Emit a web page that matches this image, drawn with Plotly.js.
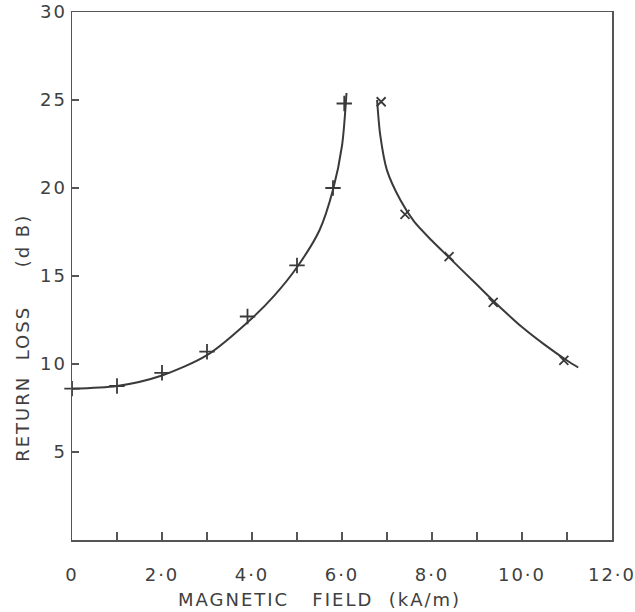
<!DOCTYPE html>
<html><head><meta charset="utf-8">
<script src="https://cdn.plot.ly/plotly-3.0.1.min.js"></script>
<style>
body{margin:0;background:#fff}
#chart{width:635px;height:612px}
#chart .xtick text, #chart .ytick text{letter-spacing:2px}
#chart .annotation-text{letter-spacing:2px}
</style>
</head><body><div id="chart"></div>
<script>
// measured points, below resonance (+)
const belowX = [0, 1.0, 2.0, 3.0, 3.9, 5.0, 5.8, 6.05];
const belowY = [8.6, 8.75, 9.5, 10.7, 12.7, 15.6, 20.0, 24.8];
// measured points, above resonance (x)
const aboveX = [6.87, 7.4, 8.38, 9.36, 10.93];
const aboveY = [24.9, 18.5, 16.1, 13.5, 10.2];
// hand-drawn curves
const curveLeftX = [0, 1, 2, 3, 4, 4.5, 5, 5.5, 5.8, 6.0, 6.1];
const curveLeftY = [8.6, 8.75, 9.35, 10.5, 12.6, 13.9, 15.5, 17.6, 19.9, 22.4, 25.4];
const curveRightX = [6.78, 6.85, 7.0, 7.3, 7.6, 8.0, 8.4, 9.0, 9.4, 10.0, 10.5, 11.0, 11.25];
const curveRightY = [25.0, 23.0, 21.0, 19.3, 18.1, 17.0, 16.0, 14.5, 13.5, 12.1, 11.1, 10.2, 9.8];
// ticks
const xTickVals = [0,1,2,3,4,5,6,7,8,9,10,11,12];
const xTickText = ['0','','2·0','','4·0','','6·0','','8·0','','10·0','','12·0'];
const yTickVals = [0,5,10,15,20,25,30];
const yTickText = ['','5','10','15','20','25','30'];
// titles
const nb = '\u00a0';
const xTitle = 'MAGNETIC' + nb+nb+nb + 'FIELD' + nb+nb + '(kA/m)';
const yTitle = 'RETURN' + nb+nb + 'LOSS' + nb+nb+nb+nb+nb + '(d' + nb + 'B)';

const ink = '#3a3a3a';
const textCol = '#404040';
const ff = 'DejaVu Sans, sans-serif';
const traces = [
  {x: curveLeftX, y: curveLeftY, mode: 'lines', line: {color: ink, width: 2, shape: 'spline', smoothing: 0.8}, hoverinfo: 'skip'},
  {x: curveRightX, y: curveRightY, mode: 'lines', line: {color: ink, width: 2, shape: 'spline', smoothing: 0.8}, hoverinfo: 'skip'},
  {x: belowX, y: belowY, mode: 'markers', cliponaxis: false, marker: {symbol: 'cross-thin', size: 11, line: {color: ink, width: 1.8}}},
  {x: aboveX, y: aboveY, mode: 'markers', marker: {symbol: 'x-thin', size: 9, line: {color: ink, width: 1.8}}}
];
const layout = {
  width: 635, height: 612,
  margin: {l: 72, r: 23, t: 12, b: 72},
  paper_bgcolor: '#fff', plot_bgcolor: '#fff',
  showlegend: false,
  font: {family: ff, size: 18, color: textCol},
  xaxis: {
    range: [0, 12], tickvals: xTickVals, ticktext: xTickText,
    ticks: 'inside', ticklen: 8, tickwidth: 1.3, tickcolor: '#555',
    showline: true, linecolor: '#555', linewidth: 1.5, mirror: true,
    showgrid: false, zeroline: false, ticklabelstandoff: 18,
    tickfont: {family: ff, size: 18, color: textCol}
  },
  yaxis: {
    range: [0, 30], tickvals: yTickVals, ticktext: yTickText,
    ticks: 'inside', ticklen: 7, tickwidth: 1.3, tickcolor: '#555',
    showline: true, linecolor: '#555', linewidth: 1.5, mirror: true,
    showgrid: false, zeroline: false, ticklabelstandoff: 0,
    tickfont: {family: ff, size: 18, color: textCol}
  },
  annotations: [
    {text: xTitle, xref: 'paper', yref: 'paper', x: 0.458, y: -0.1136,
     xanchor: 'center', yanchor: 'middle', showarrow: false,
     font: {family: ff, size: 18, color: textCol}},
    {text: yTitle, xref: 'paper', yref: 'paper', x: -0.0907, y: 0.383,
     xanchor: 'center', yanchor: 'middle', showarrow: false, textangle: -90,
     font: {family: ff, size: 18, color: textCol}}
  ]
};
Plotly.newPlot('chart', traces, layout, {staticPlot: true});
</script></body></html>
